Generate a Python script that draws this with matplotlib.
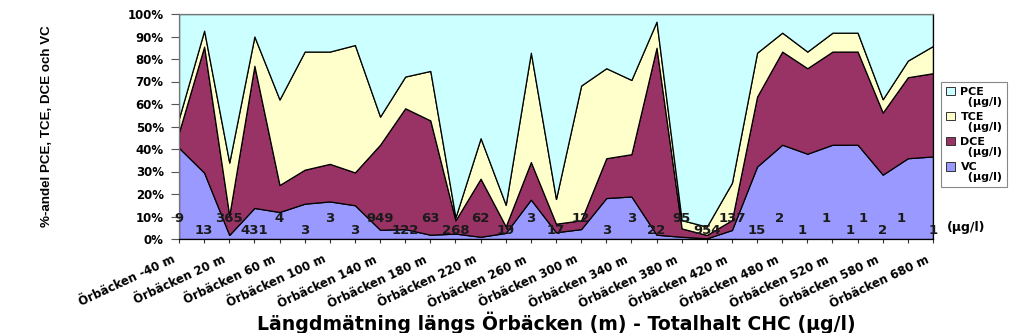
import matplotlib
matplotlib.use("Agg")
import matplotlib.pyplot as plt
import matplotlib.transforms as mtransforms
import numpy as np
from matplotlib.patches import Patch, Rectangle
from matplotlib.legend_handler import HandlerPatch

# ---------------- data ----------------
tick_labels = ["Örbäcken -40 m", "Örbäcken 20 m", "Örbäcken 60 m", "Örbäcken 100 m",
               "Örbäcken 140 m", "Örbäcken 180 m", "Örbäcken 220 m", "Örbäcken 260 m",
               "Örbäcken 300 m", "Örbäcken 340 m", "Örbäcken 380 m", "Örbäcken 420 m",
               "Örbäcken 480 m", "Örbäcken 520 m", "Örbäcken 580 m", "Örbäcken 680 m"]

# percentage shares per sampling point (31 points)
vc = [40.5, 29.5, 1.8, 13.8, 12, 15.7, 16.7, 15, 4.1, 4.4, 1.9, 2.4, 1, 2.7, 17.5, 3,
      4.4, 18.2, 18.9, 1.9, 1, 0.3, 4, 32.2, 41.9, 37.9, 41.9, 41.9, 28.6, 35.9, 36.7]
dce = [7, 56, 8.7, 63.2, 12, 15.1, 16.7, 14.6, 37.8, 53.7, 50.8, 5.9, 25.8, 2.9, 16.7, 3.8,
       3.9, 17.7, 18.8, 83.1, 3.7, 1.5, 4.4, 31.1, 41.4, 38, 41.4, 41.4, 27.6, 36, 37]
tce = [6.2, 7.1, 23.5, 13, 38, 52.5, 49.9, 56.6, 12.5, 14.1, 22, 1.3, 18, 9.6, 48.6, 11,
       59.9, 40, 33, 11.6, 3.7, 3.7, 16.6, 19.5, 8.4, 7.4, 8.4, 8.4, 5.9, 7.4, 12.1]
pce = [46.3, 7.4, 66, 10, 38, 16.7, 16.7, 13.8, 45.6, 27.8, 25.3, 90.4, 55.2, 84.8, 17.2, 82.2,
       31.8, 24.1, 29.3, 3.4, 91.6, 94.5, 75, 17.2, 8.3, 16.7, 8.3, 8.3, 37.9, 20.7, 14.2]

# total CHC (µg/l) labels
total_labels = ["9", "13", "365", "431", "4", "3", "3", "3", "949", "122", "63", "268", "62",
                "19", "3", "17", "12", "3", "3", "22", "95", "954", "137", "15", "2", "1",
                "1", "1", "1", "2", "1", "1"]
total_label_pos = [0, 1, 2, 3, 4, 5, 6, 7, 8, 9, 10, 11, 12, 13, 14, 15, 16, 17, 18, 19, 20,
                   21, 22, 23, 23.9, 24.8, 25.75, 26.7, 27.2, 28, 28.75, 30]

series_names = ["VC\n  (µg/l)", "DCE\n  (µg/l)", "TCE\n  (µg/l)", "PCE\n  (µg/l)"]
colors = ["#9999FF", "#993366", "#FFFFCC", "#CCFFFF"]

# ---------------- figure ----------------
plt.rcParams["font.family"] = ["Liberation Sans", "DejaVu Sans"]
WIDE = ["DejaVu Sans"]

fig = plt.figure(figsize=(10.24, 3.33), dpi=100)
ax = fig.add_axes([179 / 1024, 1 - 239 / 333, (933 - 179) / 1024, (239 - 14) / 333])

x = np.arange(len(vc))
data = np.array([vc, dce, tce, pce], dtype=float)
data = data / data.sum(axis=0) * 100.0

ax.stackplot(x, data, colors=colors, edgecolor="black", linewidth=0.9)

ax.set_xlim(0, len(vc) - 1)
ax.set_ylim(0, 100)

# y axis
yt = np.arange(0, 101, 10)
ax.set_yticks(yt)
ax.set_yticklabels([f"{v}%" for v in yt], fontsize=8.5, fontweight="bold", family=WIDE)
ax.tick_params(axis="y", direction="out", length=6, width=0.8, color="#555555", pad=5)

# x axis
ax.set_xticks(x)
xl = [tick_labels[i // 2] if i % 2 == 0 else "" for i in range(len(vc))]
ax.set_xticklabels(xl, rotation=25, ha="right", rotation_mode="anchor",
                   fontsize=8.5, fontweight="bold", family=WIDE)
ax.tick_params(axis="x", direction="out", length=3, width=0.8, color="#333333", pad=7)
shift = mtransforms.ScaledTranslation(-7 / 100, 0, fig.dpi_scale_trans)
for lab in ax.get_xticklabels():
    lab.set_transform(lab.get_transform() + shift)

for side in ["left", "top"]:
    ax.spines[side].set_color("#777777")
for side in ["right", "bottom"]:
    ax.spines[side].set_color("black")
for s in ax.spines.values():
    s.set_linewidth(0.9)

# totals labels
for k, (lab, pos) in enumerate(zip(total_labels, total_label_pos)):
    yv = 9.3 if k % 2 == 0 else 4.0
    ax.text(pos, yv, lab, ha="center", va="center", fontsize=9.5, fontweight="bold",
            family=WIDE, color="#1a1a1a", clip_on=False)

fig.text(947 / 1024, 1 - 227 / 333, "(µg/l)", ha="left", va="center", fontsize=9,
         fontweight="bold", family=WIDE)

fig.text(47 / 1024, 1 - 126 / 333, "%-andel PCE, TCE, DCE och VC", rotation=90,
         ha="center", va="center", fontsize=9.6, fontweight="bold")

fig.text(556 / 1024, 1 - 323 / 333, "Längdmätning längs Örbäcken (m) - Totalhalt CHC (µg/l)",
         ha="center", va="center", fontsize=13.6, fontweight="bold", family=WIDE)


def top_square(legend, orig_handle, xdescent, ydescent, width, height, fontsize):
    return Rectangle((-xdescent, -ydescent + 0.55 * fontsize), width, height)


handles = [Patch(facecolor=c, edgecolor="#333333", linewidth=0.7) for c in colors]
leg = fig.legend(handles[::-1], series_names[::-1], loc="upper left",
                 bbox_to_anchor=(941 / 1024, 1 - 82 / 333),
                 prop={"weight": "bold", "size": 8, "family": WIDE}, frameon=True,
                 fancybox=False, edgecolor="#888888", framealpha=1, handlelength=0.8,
                 handleheight=0.8, handletextpad=0.5, borderpad=0.45, labelspacing=0.5,
                 borderaxespad=0,
                 handler_map={Patch: HandlerPatch(patch_func=top_square)})
leg.get_frame().set_linewidth(0.8)
for t in leg.get_texts():
    t.set_linespacing(0.95)

fig.savefig("out.png", dpi=100)
